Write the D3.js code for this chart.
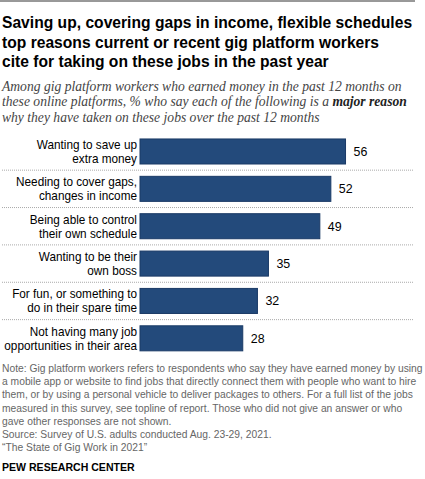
<!DOCTYPE html>
<html>
<head>
<meta charset="utf-8">
<script src="https://cdn.jsdelivr.net/npm/d3@7"></script>
<style>
  body { margin: 0; background: #fff; }
  svg text { font-family: "Liberation Sans", Arial, sans-serif; }
</style>
</head>
<body>
<svg id="chart" width="425" height="479"></svg>
<script>
// chart data
var categories = [
  ["Wanting to save up", "extra money"],
  ["Needing to cover gaps,", "changes in income"],
  ["Being able to control", "their own schedule"],
  ["Wanting to be their", "own boss"],
  ["For fun, or something to", "do in their spare time"],
  ["Not having many job", "opportunities in their area"]
];
var values = [56, 52, 49, 35, 32, 28];

var titleLines = [
  "Saving up, covering gaps in income, flexible schedules",
  "top reasons current or recent gig platform workers",
  "cite for taking on these jobs in the past year"
];
var noteLines = [
  "Note: Gig platform workers refers to respondents who say they have earned money by using",
  "a mobile app or website to find jobs that directly connect them with people who want to hire",
  "them, or by using a personal vehicle to deliver packages to others. For a full list of the jobs",
  "measured in this survey, see topline of report. Those who did not give an answer or who",
  "gave other responses are not shown.",
  "Source: Survey of U.S. adults conducted Aug. 23-29, 2021.",
  "\u201cThe State of Gig Work in 2021\u201d"
];

var squeeze = 0.92; // Arial runs wider than the Franklin Gothic of the original

var svg = d3.select("#chart");
var keys = categories.map(function(c) { return c.join(" "); });

// top rule
svg.append("line")
  .attr("x1", 0).attr("x2", 415).attr("y1", 1).attr("y2", 1)
  .attr("stroke", "#333").attr("stroke-width", 1);

// title
svg.append("g").selectAll("text")
  .data(titleLines).enter().append("text")
  .attr("transform", function(d, i) {
    return "translate(2," + (28 + i * 19.5) + ") scale(" + squeeze + ",1)";
  })
  .style("font-size", "17px")
  .style("font-weight", "bold")
  .attr("fill", "#000")
  .text(function(d) { return d; });

// subtitle
var serif = "'Liberation Serif', Georgia, serif";
var sub = svg.append("g")
  .style("font-style", "italic")
  .style("font-size", "13.6px")
  .attr("fill", "#444");
sub.append("text").attr("x", 2).attr("y", 90.5)
  .style("font-family", serif)
  .text("Among gig platform workers who earned money in the past 12 months on");
var l2 = sub.append("text").attr("x", 2).attr("y", 106)
  .style("font-family", serif);
l2.append("tspan").text("these online platforms, % who say each of the following is a ");
l2.append("tspan").style("font-weight", "bold").attr("fill", "#222").text("major reason");
sub.append("text").attr("x", 2).attr("y", 121.5)
  .style("font-family", serif)
  .text("why they have taken on these jobs over the past 12 months");

// scales
var x = d3.scaleLinear().domain([0, 100]).range([140, 507]);
var y = d3.scaleBand().domain(keys).range([132.8, 357])
  .paddingInner(0.33).paddingOuter(0.165);

// separators between rows
var gap = y.step() - y.bandwidth();
svg.append("g").selectAll("line")
  .data(keys.slice(0, -1)).enter().append("line")
  .attr("x1", 2).attr("x2", 414)
  .attr("y1", function(d) { return y(d) + y.bandwidth() + gap / 2; })
  .attr("y2", function(d) { return y(d) + y.bandwidth() + gap / 2; })
  .attr("stroke", "#aaa").attr("stroke-width", 1)
  .attr("stroke-dasharray", "1,1");

// bars
svg.append("g").selectAll("rect")
  .data(values).enter().append("rect")
  .attr("x", x(0))
  .attr("y", function(d, i) { return y(keys[i]); })
  .attr("width", function(d) { return x(d) - x(0); })
  .attr("height", y.bandwidth())
  .attr("fill", "#234a7b")
  .attr("stroke", "#1a3a66").attr("stroke-width", 1);

// value labels
svg.append("g").selectAll("text")
  .data(values).enter().append("text")
  .attr("transform", function(d, i) {
    return "translate(" + (x(d) + 8) + "," + (y(keys[i]) + y.bandwidth() / 2 + 4.5) + ") scale(" + squeeze + ",1)";
  })
  .style("font-size", "13.5px")
  .attr("fill", "#000")
  .text(function(d) { return d; });

// category labels
var cat = svg.append("g").selectAll("text")
  .data(categories).enter().append("text")
  .attr("text-anchor", "end")
  .attr("transform", function(d, i) {
    return "translate(137," + (y(keys[i]) + y.bandwidth() / 2) + ") scale(" + squeeze + ",1)";
  })
  .style("font-size", "12.8px")
  .attr("fill", "#000");
cat.each(function(d) {
  var t = d3.select(this);
  d.forEach(function(line, j) {
    t.append("tspan").attr("x", 0).attr("y", -2.5 + j * 14).text(line);
  });
});

// note and source
svg.append("g").selectAll("text")
  .data(noteLines).enter().append("text")
  .attr("transform", function(d, i) {
    return "translate(2," + (372 + i * 13.2) + ") scale(" + squeeze + ",1)";
  })
  .style("font-size", "11.2px")
  .attr("fill", "#666")
  .text(function(d) { return d; });

svg.append("text")
  .attr("transform", "translate(2,470.5) scale(" + squeeze + ",1)")
  .style("font-size", "11.5px")
  .style("font-weight", "bold")
  .attr("fill", "#000")
  .text("PEW RESEARCH CENTER");
</script>
</body>
</html>
